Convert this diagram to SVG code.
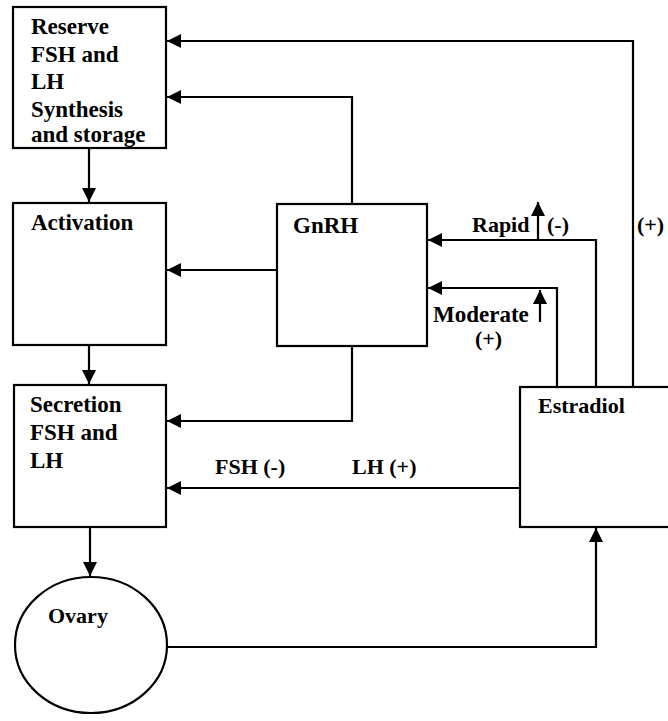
<svg xmlns="http://www.w3.org/2000/svg" width="668" height="721" viewBox="0 0 668 721">
<style>
.box{fill:#fff;stroke:#000;stroke-width:2.2}
text{font-family:'Liberation Serif','DejaVu Serif',serif;font-size:23px;font-weight:bold;fill:#000}
.s{font-size:22px}
.c{fill:none;stroke:#000;stroke-width:2.2}
</style>
<defs>
<marker id="ah" markerUnits="userSpaceOnUse" markerWidth="15" markerHeight="15" refX="14" refY="7" orient="auto">
<path d="M0,0 L14,7 L0,14 z" fill="#000"/>
</marker>
</defs>
<rect width="668" height="721" fill="#fff"/>
<g id="reserve">
<rect class="box" x="13" y="7" width="153" height="141"/>
<text x="31" y="34">Reserve</text>
<text x="31" y="62">FSH and</text>
<text x="31" y="89">LH</text>
<text x="31" y="117">Synthesis</text>
<text x="31" y="142">and storage</text>
</g>
<g id="activation">
<rect class="box" x="13" y="203" width="153" height="142"/>
<text x="31" y="230">Activation</text>
</g>
<g id="secretion">
<rect class="box" x="14" y="385" width="152" height="142"/>
<text x="30" y="412">Secretion</text>
<text x="30" y="440">FSH and</text>
<text x="30" y="468">LH</text>
</g>
<g id="gnrh">
<rect class="box" x="277" y="204" width="150" height="142"/>
<text x="293" y="233">GnRH</text>
</g>
<g id="estradiol">
<rect class="box" x="520" y="387" width="200" height="140"/>
<text class="s" x="538" y="413">Estradiol</text>
</g>
<g id="ovary">
<ellipse class="box" cx="91" cy="645" rx="76" ry="68"/>
<text class="s" x="48" y="623">Ovary</text>
</g>
<g id="connectors">
<path class="c" d="M633,387 V41 H167" marker-end="url(#ah)"/>
<path class="c" d="M352,204 V97 H167" marker-end="url(#ah)"/>
<path class="c" d="M596,387 V240 H428" marker-end="url(#ah)"/>
<path class="c" d="M557,387 V288 H428" marker-end="url(#ah)"/>
<path class="c" d="M277,270 H167" marker-end="url(#ah)"/>
<path class="c" d="M352,346 V421 H167" marker-end="url(#ah)"/>
<path class="c" d="M520,488 H167" marker-end="url(#ah)"/>
<path class="c" d="M89,148 V202" marker-end="url(#ah)"/>
<path class="c" d="M89,345 V384" marker-end="url(#ah)"/>
<path class="c" d="M90,527 V576" marker-end="url(#ah)"/>
<path class="c" d="M167,647 H596 V528" marker-end="url(#ah)"/>
<path class="c" d="M538,240 V202" marker-end="url(#ah)"/>
<path class="c" d="M540,322 V290" marker-end="url(#ah)"/>
</g>
<g id="labels">
<text class="s" x="472" y="232">Rapid</text>
<text class="s" x="547" y="232">(-)</text>
<text class="s" x="637" y="232">(+)</text>
<text x="433" y="322">Moderate</text>
<text class="s" x="475" y="346">(+)</text>
<text class="s" x="215" y="474">FSH (-)</text>
<text class="s" x="352" y="474">LH (+)</text>
</g>
</svg>
